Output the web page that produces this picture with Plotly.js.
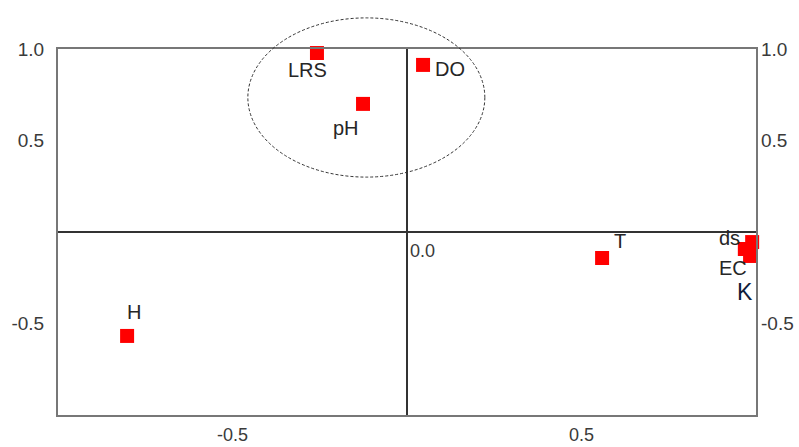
<!DOCTYPE html>
<html><head><meta charset="utf-8">
<script src="https://cdn.plot.ly/plotly-3.0.1.min.js"></script>
<style>html,body{margin:0;padding:0;background:#fff;}#chart{width:799px;height:447px;}</style>
</head><body><div id="chart"></div>
<script>
const labels = ["LRS","DO","pH","T","ds","EC","K","H"];
const xVals = [-0.258, 0.046, -0.126, 0.559, 0.989, 0.968, 0.983, -0.802];
const yVals = [0.978, 0.913, 0.70, -0.142, -0.055, -0.093, -0.131, -0.568];
const xTickVals = [-0.5, 0.5];
const xTickText = ["-0.5", "0.5"];
const yTickVals = [-0.5, 0.5, 1.0];
const yTickText = ["-0.5", "0.5", "1.0"];
const originLabel = "0.0";
// ellipse extent in data units
const ellX = [-0.456, 0.223];
const ellY = [0.30, 1.17];

// label pixel offsets (style)
const labelShift = {
  LRS:[-9,-17], DO:[27,-4], pH:[-17,-24], T:[18,17],
  ds:[-23,4], EC:[-12,-19], K:[-5,-36], H:[7,24]
};

const font = "Liberation Sans, Arial, sans-serif";
const trace = {
  x: xVals, y: yVals, mode: "markers", type: "scatter",
  marker: {symbol: "square", size: 14, color: "#ff0000"},
  cliponaxis: false, hoverinfo: "skip", showlegend: false
};
const ghost = {
  x: xVals, y: yVals, mode: "markers", type: "scatter", yaxis: "y2",
  marker: {opacity: 0}, hoverinfo: "skip", showlegend: false
};

const annotations = labels.map((t, i) => ({
  x: xVals[i], y: yVals[i], xref: "x", yref: "y", text: t, showarrow: false,
  xshift: labelShift[t][0], yshift: labelShift[t][1],
  font: {family: font, size: t === "K" ? 23 : 20, color: t === "K" ? "#10203a" : "#262626"}
}));
annotations.push({x: 0, y: 0, xref: "x", yref: "y", text: originLabel, showarrow: false,
  xanchor: "left", yanchor: "top", xshift: 1, yshift: -7,
  font: {family: font, size: 18, color: "#3a3a3a"}});

const toPaper = v => (v + 1) / 2;
const tf = {family: font, size: 19, color: "#3a3a3a"};
const layout = {
  width: 799, height: 447,
  margin: {l: 58, r: 43, t: 49, b: 32},
  paper_bgcolor: "#fff", plot_bgcolor: "#fff",
  font: {family: font, size: 19, color: "#3a3a3a"},
  xaxis: {range: [-1, 1], tickvals: xTickVals, ticktext: xTickText, showgrid: false,
    zeroline: true, zerolinecolor: "#333", zerolinewidth: 1.5,
    showline: true, mirror: true, linecolor: "#777", linewidth: 2,
    ticks: "", ticklabelstandoff: 2, tickfont: {family: font, size: 18, color: "#3a3a3a"}},
  yaxis: {range: [-1, 1], tickvals: yTickVals, ticktext: yTickText, showgrid: false,
    zeroline: true, zerolinecolor: "#333", zerolinewidth: 1.5,
    showline: true, mirror: true, linecolor: "#777", linewidth: 2,
    ticks: "", ticklabelstandoff: 8, tickfont: tf},
  yaxis2: {range: [-1, 1], overlaying: "y", side: "right", tickvals: yTickVals, ticktext: yTickText,
    showgrid: false, zeroline: false, showline: false, ticks: "", ticklabelstandoff: 4,
    tickfont: tf},
  shapes: [{type: "circle", xref: "paper", yref: "paper",
    x0: toPaper(ellX[0]), x1: toPaper(ellX[1]), y0: toPaper(ellY[0]), y1: toPaper(ellY[1]),
    line: {color: "#333", width: 1, dash: "3px,2px"}}],
  annotations: annotations
};
Plotly.newPlot("chart", [trace, ghost], layout, {displayModeBar: false, staticPlot: true});
</script></body></html>
